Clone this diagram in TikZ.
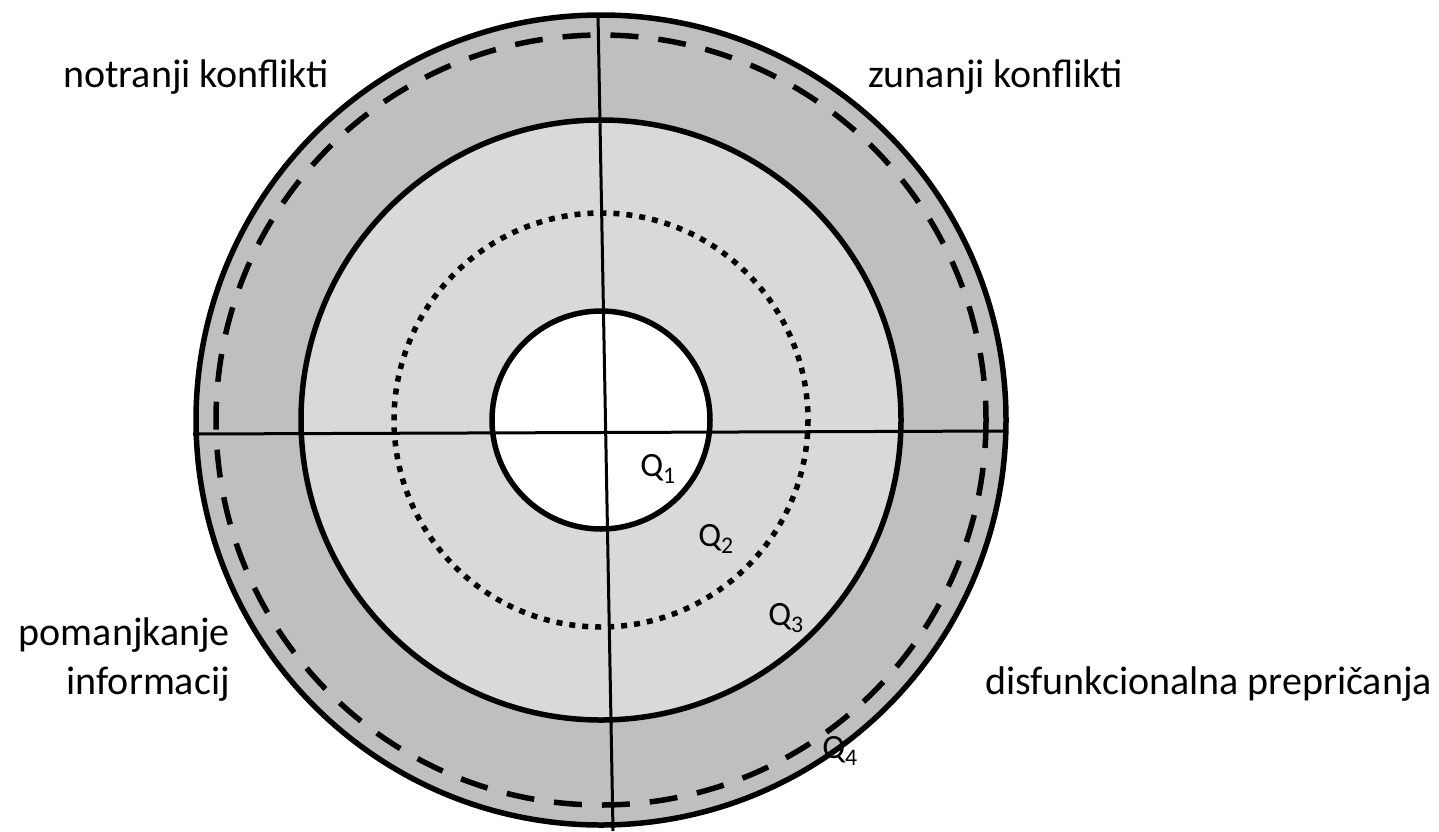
\documentclass[tikz,border=0pt]{standalone}
\usepackage{fontspec}
\setmainfont{Carlito}
\definecolor{ringdark}{HTML}{BFBFBF}
\definecolor{ringlight}{HTML}{D9D9D9}
\usetikzlibrary{positioning}
\tikzset{
  ring/.style={line width=5.5pt},
  cut/.style={line width=3pt},
  lab/.style={font=\fontsize{40}{49}\selectfont,inner sep=0pt},
  qlab/.style={font=\fontsize{34}{40}\selectfont,inner sep=0pt},
}

\begin{document}
\begin{tikzpicture}[x=1pt,y=-1pt]
\useasboundingbox (0,0) rectangle (1439,831);
\coordinate (o) at (601,420);
% rings
\fill[ringdark] (o) circle (405);
\fill[ringlight] (o) circle (300);
\fill[white] (o) circle (109);
% quadrant cuts
\coordinate (top) at (598,14);
\coordinate (bot) at (613,831);
\coordinate (lft) at (193,434);
\coordinate (rgt) at (1007,431);
\draw[cut] (top) -- (bot);
\draw[cut] (lft) -- (rgt);
% circles
\draw[ring] (o) circle (405);
\draw[ring,dash pattern=on 28pt off 20pt] (o) circle (385);
\draw[ring] (o) circle (300);
\draw[ring,dash pattern=on 6pt off 7pt] (o) circle (207);
\draw[ring] (o) circle (109);
% labels
\node[lab,anchor=base west] (inner) at (63,87) {notranji konflikti};
\node[lab,anchor=base west] (outer) at (868,87) {zunanji konflikti};
\node[lab,anchor=base east] (info) at (230,645) {pomanjkanje};
\node[lab,anchor=base east] (info2) at (230,694) {informacij};
\node[lab,anchor=base west] (beliefs) at (985,694) {disfunkcionalna prepričanja};
\node[qlab] (q1) at (658,469) {Q\textsubscript{1}};
\node[qlab] (q2) at (716,539) {Q\textsubscript{2}};
\node[qlab] (q3) at (786,618) {Q\textsubscript{3}};
\node[qlab] (q4) at (840,751) {Q\textsubscript{4}};
\end{tikzpicture}
\end{document}
